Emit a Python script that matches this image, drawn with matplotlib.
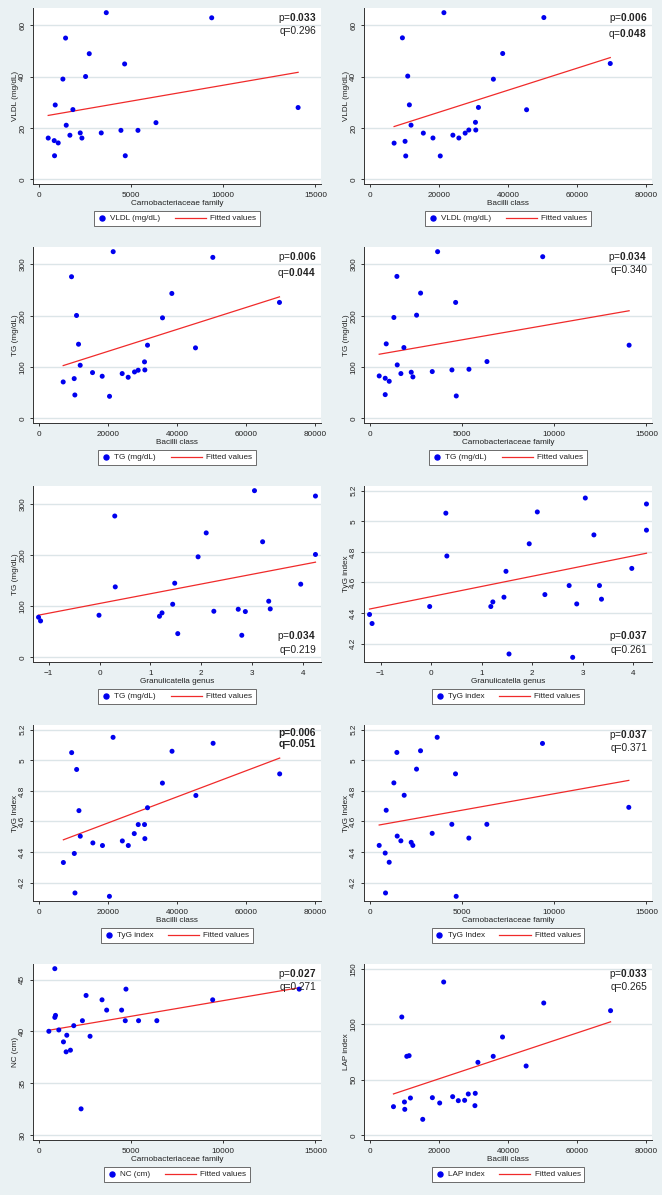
"""
ten stata-style scatter panels with linear fit, arranged 5 rows x 2 columns.
"""

import numpy as np
import matplotlib
matplotlib.use("Agg")
import matplotlib.pyplot as plt
from matplotlib.lines import Line2D
from matplotlib.legend_handler import HandlerBase

plt.rcParams['font.family'] = ['Liberation Sans', 'DejaVu Sans']
plt.rcParams['mathtext.fontset'] = 'custom'
plt.rcParams['mathtext.rm'] = 'Liberation Sans'
plt.rcParams['mathtext.bf'] = 'Liberation Sans:bold'

# ---- data ----
# VLDL vs Carnobacteriaceae family
carno_vldl_x = [3669, 9380, 1464, 2747, 4663, 1319, 2548, 904, 1861, 14060, 1500, 6361,
                524, 849, 1066, 867, 1699, 2259, 2349, 3397, 4463, 5385, 4698]
carno_vldl_y = [65.0, 63.0, 55.1, 49.0, 45.0, 39.1, 40.1, 29.0, 27.2, 28.0, 21.1, 22.1,
                16.1, 15.1, 14.2, 9.2, 17.2, 18.1, 16.1, 18.1, 19.1, 19.1, 9.2]

# VLDL vs Bacilli class
bac_vldl_x = [21486, 50359, 9496, 38464, 69542, 35778, 11031, 11510, 31462, 45370, 11990, 30598,
              30694, 28680, 27625, 15539, 24076, 18321, 25802, 7098, 10263, 10455, 20431]
bac_vldl_y = [64.9, 63.0, 55.1, 49.0, 45.1, 39.0, 40.2, 29.0, 28.0, 27.1, 21.1, 22.2,
              19.2, 19.2, 18.0, 18.0, 17.2, 16.1, 16.1, 14.1, 14.8, 9.1, 9.1]

# TG vs Bacilli class
bac_tg_x = [21564, 50349, 9531, 38508, 69603, 35812, 10975, 11552, 31480, 45343, 12034, 30614,
            30710, 28785, 27726, 15596, 24164, 18388, 25897, 7124, 10301, 10493, 20506]
bac_tg_y = [324.7, 313.6, 275.9, 243.3, 225.8, 195.8, 200.4, 144.4, 142.5, 137.3, 103.4, 110.0,
            94.3, 93.7, 90.4, 89.1, 87.2, 82.0, 80.0, 70.9, 77.4, 45.5, 42.9]

# TG vs Carnobacteriaceae family
carno_tg_x = [3687, 9380, 1482, 2765, 4663, 1319, 2548, 904, 1861, 14060, 1500, 6361,
              524, 849, 1066, 849, 1699, 2259, 2349, 3397, 4463, 5385, 4698]
carno_tg_y = [324.7, 314.9, 276.5, 244.0, 225.8, 196.5, 201.0, 145.1, 137.9, 142.5, 104.1, 110.6,
              82.6, 78.1, 72.2, 46.2, 87.2, 89.8, 80.7, 91.1, 94.3, 95.6, 43.6]

# TG vs Granulicatella genus
gran_tg_x = [3.05, 4.25, 0.30, 2.10, 3.21, 1.94, 4.25, 1.48, 0.31, 3.96, 1.44, 3.33,
             -0.01, -1.20, -1.16, 1.18, 1.23, 2.25, 2.73, 2.87, 3.36, 1.54, 2.80]
gran_tg_y = [325.5, 315.0, 276.0, 243.0, 225.7, 196.3, 200.9, 144.8, 137.6, 142.9, 103.7, 109.6,
             82.2, 78.3, 71.1, 80.2, 86.8, 90.0, 93.9, 89.4, 94.6, 46.3, 43.1]

# TyG index vs Granulicatella genus
gran_tyg_x = [3.05, 4.26, 0.29, 2.10, 4.26, 3.22, 1.94, 0.31, 1.48, 3.97, 2.73, 3.33,
              2.25, 1.44, 3.37, 1.22, 1.18, -0.03, 2.88, -1.22, -1.17, 1.54, 2.80]
gran_tyg_y = [5.152, 5.113, 5.053, 5.061, 4.942, 4.911, 4.853, 4.773, 4.673, 4.692, 4.580, 4.580,
              4.521, 4.504, 4.491, 4.473, 4.443, 4.443, 4.460, 4.391, 4.332, 4.133, 4.111]

# TyG index vs Bacilli class
bac_tyg_x = [21531, 50429, 9569, 38563, 11004, 69661, 35788, 45452, 11674, 31482, 28802, 30620,
             27654, 12057, 30716, 24210, 15693, 18468, 25932, 10335, 7177, 10526, 20478]
bac_tyg_y = [5.150, 5.111, 5.050, 5.059, 4.940, 4.911, 4.851, 4.770, 4.671, 4.690, 4.580, 4.580,
             4.521, 4.504, 4.488, 4.473, 4.460, 4.443, 4.443, 4.391, 4.332, 4.133, 4.111]

# TyG index vs Carnobacteriaceae family
carno_tyg_x = [3664, 9368, 1480, 2762, 2545, 4657, 1318, 1877, 902, 14043, 4458, 6354,
               3393, 1498, 5379, 1697, 2256, 2346, 523, 848, 1065, 866, 4693]
carno_tyg_y = [5.150, 5.110, 5.051, 5.062, 4.942, 4.911, 4.852, 4.771, 4.673, 4.692, 4.581, 4.581,
               4.522, 4.504, 4.491, 4.473, 4.463, 4.443, 4.443, 4.393, 4.333, 4.132, 4.110]

# NC vs Carnobacteriaceae family
carno_nc_x = [882, 4736, 14118, 2575, 3439, 9432, 3690, 4500, 918, 882, 2376, 4698,
              5418, 6408, 1908, 1098, 558, 1530, 2790, 1350, 1728, 1494, 2304]
carno_nc_y = [46.05, 44.08, 44.08, 43.47, 43.05, 43.05, 42.06, 42.06, 41.55, 41.36, 41.04, 41.04,
              41.04, 41.04, 40.56, 40.15, 40.02, 39.64, 39.54, 39.00, 38.20, 38.04, 32.55]

# LAP index vs Bacilli class
bac_lap_x = [21417, 50325, 69629, 9316, 38416, 10756, 11429, 35727, 31309, 45235, 30541, 28524,
             24010, 18152, 11813, 27467, 25643, 10084, 20264, 30445, 6915, 10180, 15366]
bac_lap_y = [138.0, 119.1, 112.2, 106.5, 88.5, 71.1, 71.7, 71.1, 65.7, 62.4, 37.8, 37.2,
             34.8, 33.9, 33.6, 31.5, 31.2, 30.0, 29.1, 26.7, 25.8, 23.4, 14.4]

# tick values
carno_ticks = [0, 5000, 10000, 15000]
bac_ticks = [0, 20000, 40000, 60000, 80000]
gran_ticks = [-1, 0, 1, 2, 3, 4]
vldl_ticks = [0, 20, 40, 60]
tg_ticks = [0, 100, 200, 300]
tyg_ticks = [4.2, 4.4, 4.6, 4.8, 5.0, 5.2]
nc_ticks = [30, 35, 40, 45]
lap_ticks = [0, 50, 100, 150]

# p / q annotations
p_values = ['0.033', '0.006', '0.006', '0.034', '0.034', '0.037', '0.006', '0.037', '0.027', '0.033']
q_values = ['0.296', '0.048', '0.044', '0.340', '0.219', '0.261', '0.051', '0.371', '0.271', '0.265']
q_bold = [False, True, True, False, False, False, True, False, False, False]
pq_corner = ['top', 'top', 'top', 'top', 'bottom', 'bottom', 'top', 'top', 'top', 'top']

panels = [
    (carno_vldl_x, carno_vldl_y, carno_ticks, vldl_ticks, 'Carnobacteriaceae family', 'VLDL (mg/dL)', 'VLDL (mg/dL)'),
    (bac_vldl_x, bac_vldl_y, bac_ticks, vldl_ticks, 'Bacilli class', 'VLDL (mg/dL)', 'VLDL (mg/dL)'),
    (bac_tg_x, bac_tg_y, bac_ticks, tg_ticks, 'Bacilli class', 'TG (mg/dL)', 'TG (mg/dL)'),
    (carno_tg_x, carno_tg_y, carno_ticks, tg_ticks, 'Carnobacteriaceae family', 'TG (mg/dL)', 'TG (mg/dL)'),
    (gran_tg_x, gran_tg_y, gran_ticks, tg_ticks, 'Granulicatella genus', 'TG (mg/dL)', 'TG (mg/dL)'),
    (gran_tyg_x, gran_tyg_y, gran_ticks, tyg_ticks, 'Granulicatella genus', 'TyG index', 'TyG index'),
    (bac_tyg_x, bac_tyg_y, bac_ticks, tyg_ticks, 'Bacilli class', 'TyG Index', 'TyG index'),
    (carno_tyg_x, carno_tyg_y, carno_ticks, tyg_ticks, 'Carnobacteriaceae family', 'TyG Index', 'TyG Index'),
    (carno_nc_x, carno_nc_y, carno_ticks, nc_ticks, 'Carnobacteriaceae family', 'NC (cm)', 'NC (cm)'),
    (bac_lap_x, bac_lap_y, bac_ticks, lap_ticks, 'Bacilli class', 'LAP index', 'LAP index'),
]

BG = '#EAF1F3'
GRID = '#DCE5E8'
AXC = '#333333'
TXT = '#222222'
DOT = '#0000EE'
FIT = '#F02A2A'
FS = 5.9
W, H = 662, 1195
PW, PH = 331, 239


class LongLineHandler(HandlerBase):
    """legend line that reaches further left than the (short) handle box"""

    def __init__(self, extra, **kw):
        super().__init__(**kw)
        self.extra = extra

    def create_artists(self, legend, orig_handle, xdescent, ydescent, width, height,
                       fontsize, trans):
        y = height / 2 - ydescent
        x0 = -xdescent - self.extra * fontsize
        ln = Line2D([x0, width - xdescent], [y, y], color=orig_handle.get_color(),
                    lw=orig_handle.get_linewidth())
        ln.set_transform(trans)
        return [ln]


fig = plt.figure(figsize=(W / 100, H / 100), dpi=100, facecolor=BG)


def pad_range(lo, hi, m):
    span = hi - lo
    return lo - m * span, hi + m * span


for i, (xs, ys, xt, yt, xlab, ylab, leg) in enumerate(panels):
    row, col = divmod(i, 2)
    left = col * PW + 33
    top = row * PH + 8
    ax = fig.add_axes([left / W, 1 - (top + 176) / H, 288 / W, 176 / H])
    ax.set_facecolor('white')

    xs = np.asarray(xs, dtype=float)
    ys = np.asarray(ys, dtype=float)

    ax.scatter(xs, ys, s=13, color=DOT, edgecolors='none', zorder=3)

    # linear fit, like stata's lfit
    b, a = np.polyfit(xs, ys, 1)
    fx = np.array([xs.min(), xs.max()])
    ax.plot(fx, a + b * fx, color=FIT, lw=0.9, zorder=2)

    ax.set_xticks(xt)
    ax.set_yticks(yt)
    ax.set_xlim(*pad_range(min(xs.min(), xt[0]), max(xs.max(), xt[-1]), 0.02))
    ax.set_ylim(*pad_range(min(ys.min(), yt[0]), max(ys.max(), yt[-1]), 0.028))
    ax.set_yticklabels([f'{v:g}' for v in yt])

    ax.grid(axis='y', color=GRID, lw=1.0, zorder=0)
    ax.set_axisbelow(True)
    for s in ['top', 'right']:
        ax.spines[s].set_visible(False)
    for s in ['left', 'bottom']:
        ax.spines[s].set_color(AXC)
        ax.spines[s].set_linewidth(0.7)
    ax.tick_params(axis='both', direction='out', length=2.5, width=0.7, color=AXC,
                   labelsize=FS, labelcolor=TXT, pad=3)
    ax.tick_params(axis='y', labelrotation=90, pad=2.3)
    for lb in ax.get_yticklabels():
        lb.set_va('center')

    ax.set_xlabel(xlab, fontsize=FS, color=TXT, labelpad=1)
    ax.set_ylabel(ylab, fontsize=FS, color=TXT, labelpad=0.3)

    # p / q text
    if i == 6:
        txt = f'p={p_values[i]}\nq={q_values[i]}'
        weight = 'bold'
    else:
        ptxt = r'p=$\mathbf{' + p_values[i] + '}$'
        qtxt = (r'q=$\mathbf{' + q_values[i] + '}$') if q_bold[i] else 'q=' + q_values[i]
        txt = ptxt + '\n' + qtxt
        weight = 'normal'
    if pq_corner[i] == 'top':
        ax.text(0.983, 0.985, txt, transform=ax.transAxes, ha='right', va='top',
                fontsize=7.3, color=TXT, linespacing=1.2, fontweight=weight)
    else:
        ax.text(0.983, 0.04, txt, transform=ax.transAxes, ha='right', va='bottom',
                fontsize=7.3, color=TXT, linespacing=1.2, fontweight=weight)

    dot_h = Line2D([], [], ls='none', marker='o', markersize=3.6, color=DOT)
    fit_h = Line2D([], [], color=FIT, lw=0.9)
    cx = (col * PW + 177) / W
    cy = 1 - (row * PH + 211) / H
    leg_obj = fig.legend([dot_h, fit_h], [leg, 'Fitted values'], ncol=2, loc='upper center',
                         bbox_to_anchor=(cx, cy), fontsize=FS, frameon=True,
                         fancybox=False, edgecolor='#555555', framealpha=1,
                         handlelength=1.0, handletextpad=0.5, columnspacing=4.6,
                         borderpad=0.45, borderaxespad=0,
                         handler_map={fit_h: LongLineHandler(extra=2.8)})
    leg_obj.get_frame().set_linewidth(0.6)
    for t in leg_obj.get_texts():
        t.set_color(TXT)

fig.savefig('out.png', dpi=100, facecolor=BG)
